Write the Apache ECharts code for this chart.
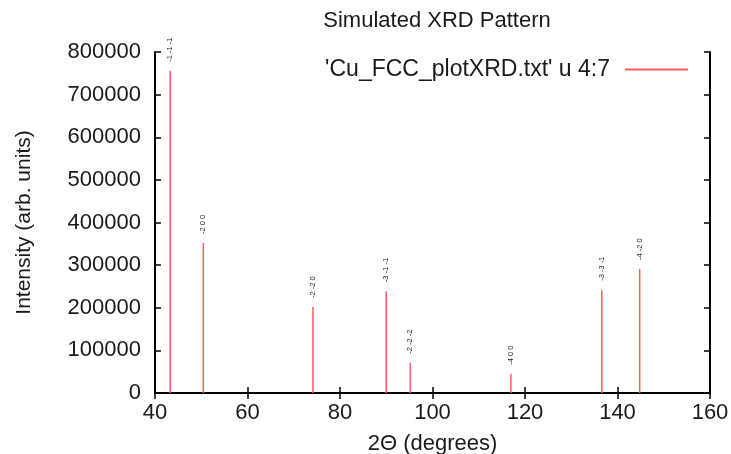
<!DOCTYPE html>
<html>
<head>
<meta charset="utf-8">
<script src="https://cdn.jsdelivr.net/npm/echarts@6/dist/echarts.min.js"></script>
<style>
html,body{margin:0;padding:0;background:#fff;}
#chart{width:731px;height:454px;}
</style>
</head>
<body>
<div id="chart"></div>
<script>
// Data
const twoTheta = [43.3, 50.45, 74.15, 90.0, 95.2, 116.95, 136.6, 144.8];
const intensity = [756000, 352000, 202000, 239000, 71000, 45000, 242000, 291000];
const hklLabels = ['-1 -1 -1', '-2 0 0', '-2 -2 0', '-3 -1 -1', '-2 -2 -2', '-4 0 0', '-3 -3 -1', '-4 -2 0'];
const xTicks = [40, 60, 80, 100, 120, 140, 160];
const yTicks = [0, 100000, 200000, 300000, 400000, 500000, 600000, 700000, 800000];
const seriesName = "'Cu_FCC_plotXRD.txt' u 4:7";

const FONT = '"Liberation Sans", Arial, Helvetica, sans-serif';
const TXT = '#1a1a1a';
const RED = '#ff5f5f';

const chart = echarts.init(document.getElementById('chart'));
const data = twoTheta.map((x, i) => [x, intensity[i]]);

const axisCommon = {
  axisLine: { show: true, lineStyle: { color: '#000', width: 2 } },
  axisTick: { show: true, inside: true, length: 6, lineStyle: { color: '#000', width: 1.5 } },
  splitLine: { show: false }
};

chart.setOption({
  backgroundColor: '#fff',
  animation: false,
  title: {
    text: 'Simulated XRD Pattern',
    left: 432, textAlign: 'center', top: 5,
    textStyle: { fontFamily: FONT, fontSize: 22, fontWeight: 'normal', color: TXT }
  },
  legend: {
    data: [seriesName],
    right: 43, top: 58, padding: 0,
    align: 'right',
    icon: 'rect', itemWidth: 63, itemHeight: 2,
    textStyle: { fontFamily: FONT, fontSize: 23, color: TXT, padding: [0, 10, 0, 0] }
  },
  grid: { left: 155, right: 21, top: 52, bottom: 61, containLabel: false, outerBoundsMode: 'none' },
  xAxis: [
    Object.assign({}, axisCommon, {
      type: 'value', min: xTicks[0], max: xTicks[xTicks.length - 1], interval: 20,
      position: 'bottom',
      name: '2Θ (degrees)', nameLocation: 'middle', nameGap: 40,
      nameTextStyle: { fontFamily: FONT, fontSize: 22, color: TXT },
      axisLabel: { fontFamily: FONT, fontSize: 22, color: TXT, margin: 9 }
    }),
    Object.assign({}, axisCommon, {
      type: 'value', min: xTicks[0], max: xTicks[xTicks.length - 1], interval: 20,
      position: 'top', axisLabel: { show: false }
    })
  ],
  yAxis: [
    Object.assign({}, axisCommon, {
      type: 'value', min: yTicks[0], max: yTicks[yTicks.length - 1], interval: 100000,
      position: 'left',
      name: 'Intensity (arb. units)', nameLocation: 'middle', nameGap: 120, nameRotate: 90,
      nameTextStyle: { fontFamily: FONT, fontSize: 21, color: TXT },
      axisLabel: { fontFamily: FONT, fontSize: 22, color: TXT, margin: 14,
                   formatter: function (v) { return String(v); } }
    }),
    Object.assign({}, axisCommon, {
      type: 'value', min: yTicks[0], max: yTicks[yTicks.length - 1], interval: 100000,
      position: 'right', axisLabel: { show: false }
    })
  ],
  series: [{
    name: seriesName,
    type: 'custom',
    xAxisIndex: 0, yAxisIndex: 0,
    itemStyle: { color: RED },
    clip: false,
    data: data,
    encode: { x: 0, y: 1 },
    renderItem: function (params, api) {
      const x = api.value(0), y = api.value(1);
      const p0 = api.coord([x, 0]);
      const p1 = api.coord([x, y]);
      return {
        type: 'group',
        children: [
          { type: 'line', shape: { x1: p0[0], y1: p0[1], x2: p1[0], y2: p1[1] },
            style: { stroke: RED, lineWidth: 1.5 } },
          { type: 'text', x: p1[0], y: p1[1] - 9, rotation: Math.PI / 2,
            style: { text: hklLabels[params.dataIndex], fontSize: 7.5, fontFamily: FONT,
                     fill: TXT, align: 'left', verticalAlign: 'middle' } }
        ]
      };
    }
  }]
});
</script>
</body>
</html>
